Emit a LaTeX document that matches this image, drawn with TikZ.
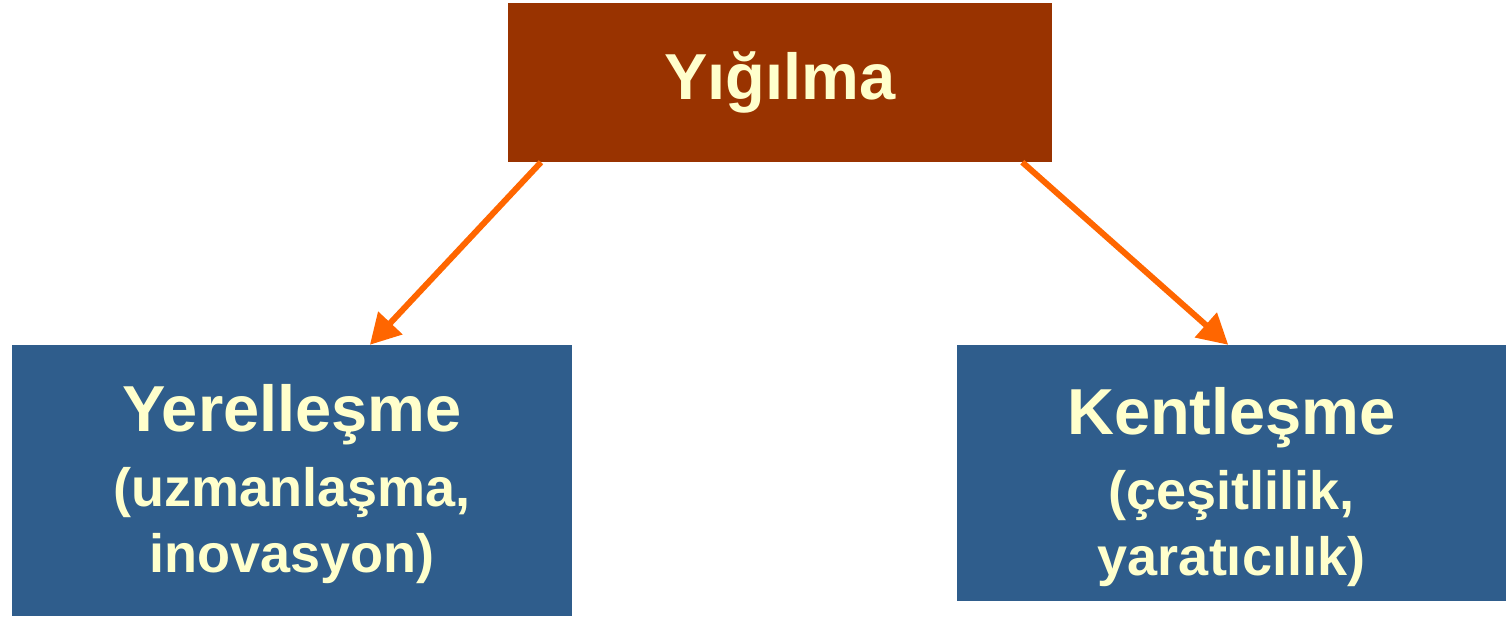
\documentclass[tikz, border=0pt]{standalone}
\usepackage{fontspec}
\setmainfont{Liberation Sans}
\usetikzlibrary{arrows.meta, calc}
\definecolor{kiremit}{HTML}{993300}
\definecolor{lacivert}{HTML}{2F5D8C}
\definecolor{krem}{HTML}{FFFFCC}
\definecolor{turuncu}{HTML}{FF6600}
\tikzset{kutu/.style = {fill = #1, text = krem, inner sep = 0, align = center, font = \bfseries\fontsize{54}{66}\selectfont}}
\tikzset{ok/.style = {-{Triangle[length = 30pt, width = 32pt]}, line width = 6pt, color = turuncu}}
\newcommand{\baslik}[2][0]{{\fontsize{65}{65}\selectfont\rule{0pt}{#1pt}#2}}

\begin{document}
\begin{tikzpicture}[x = 1pt, y = -1pt]
\useasboundingbox (0,0) rectangle (1506,616);
\node [kutu = kiremit, minimum width = 544, minimum height = 159] (yig) at (780,82.5) {\baslik{Yığılma}};
\node [kutu = lacivert, minimum width = 560, minimum height = 271] (yer) at (292,480.5)
  {\baslik[55]{Yerelleşme}\\[9pt](uzmanlaşma,\\inovasyon)};
\node [kutu = lacivert, minimum width = 549, minimum height = 256] (ken) at (1231.5,473)
  {\baslik[76]{Kentleşme}\\[9pt](çeşitlilik,\\yaratıcılık)};
\draw [ok] ($(yig.south west)!0.061!(yig.south east)$) -- ($(yer.north west)!0.639!(yer.north east)$);
\draw [ok] ($(yig.south west)!0.945!(yig.south east)$) -- ($(ken.north west)!0.494!(ken.north east)$);
\end{tikzpicture}
\end{document}
